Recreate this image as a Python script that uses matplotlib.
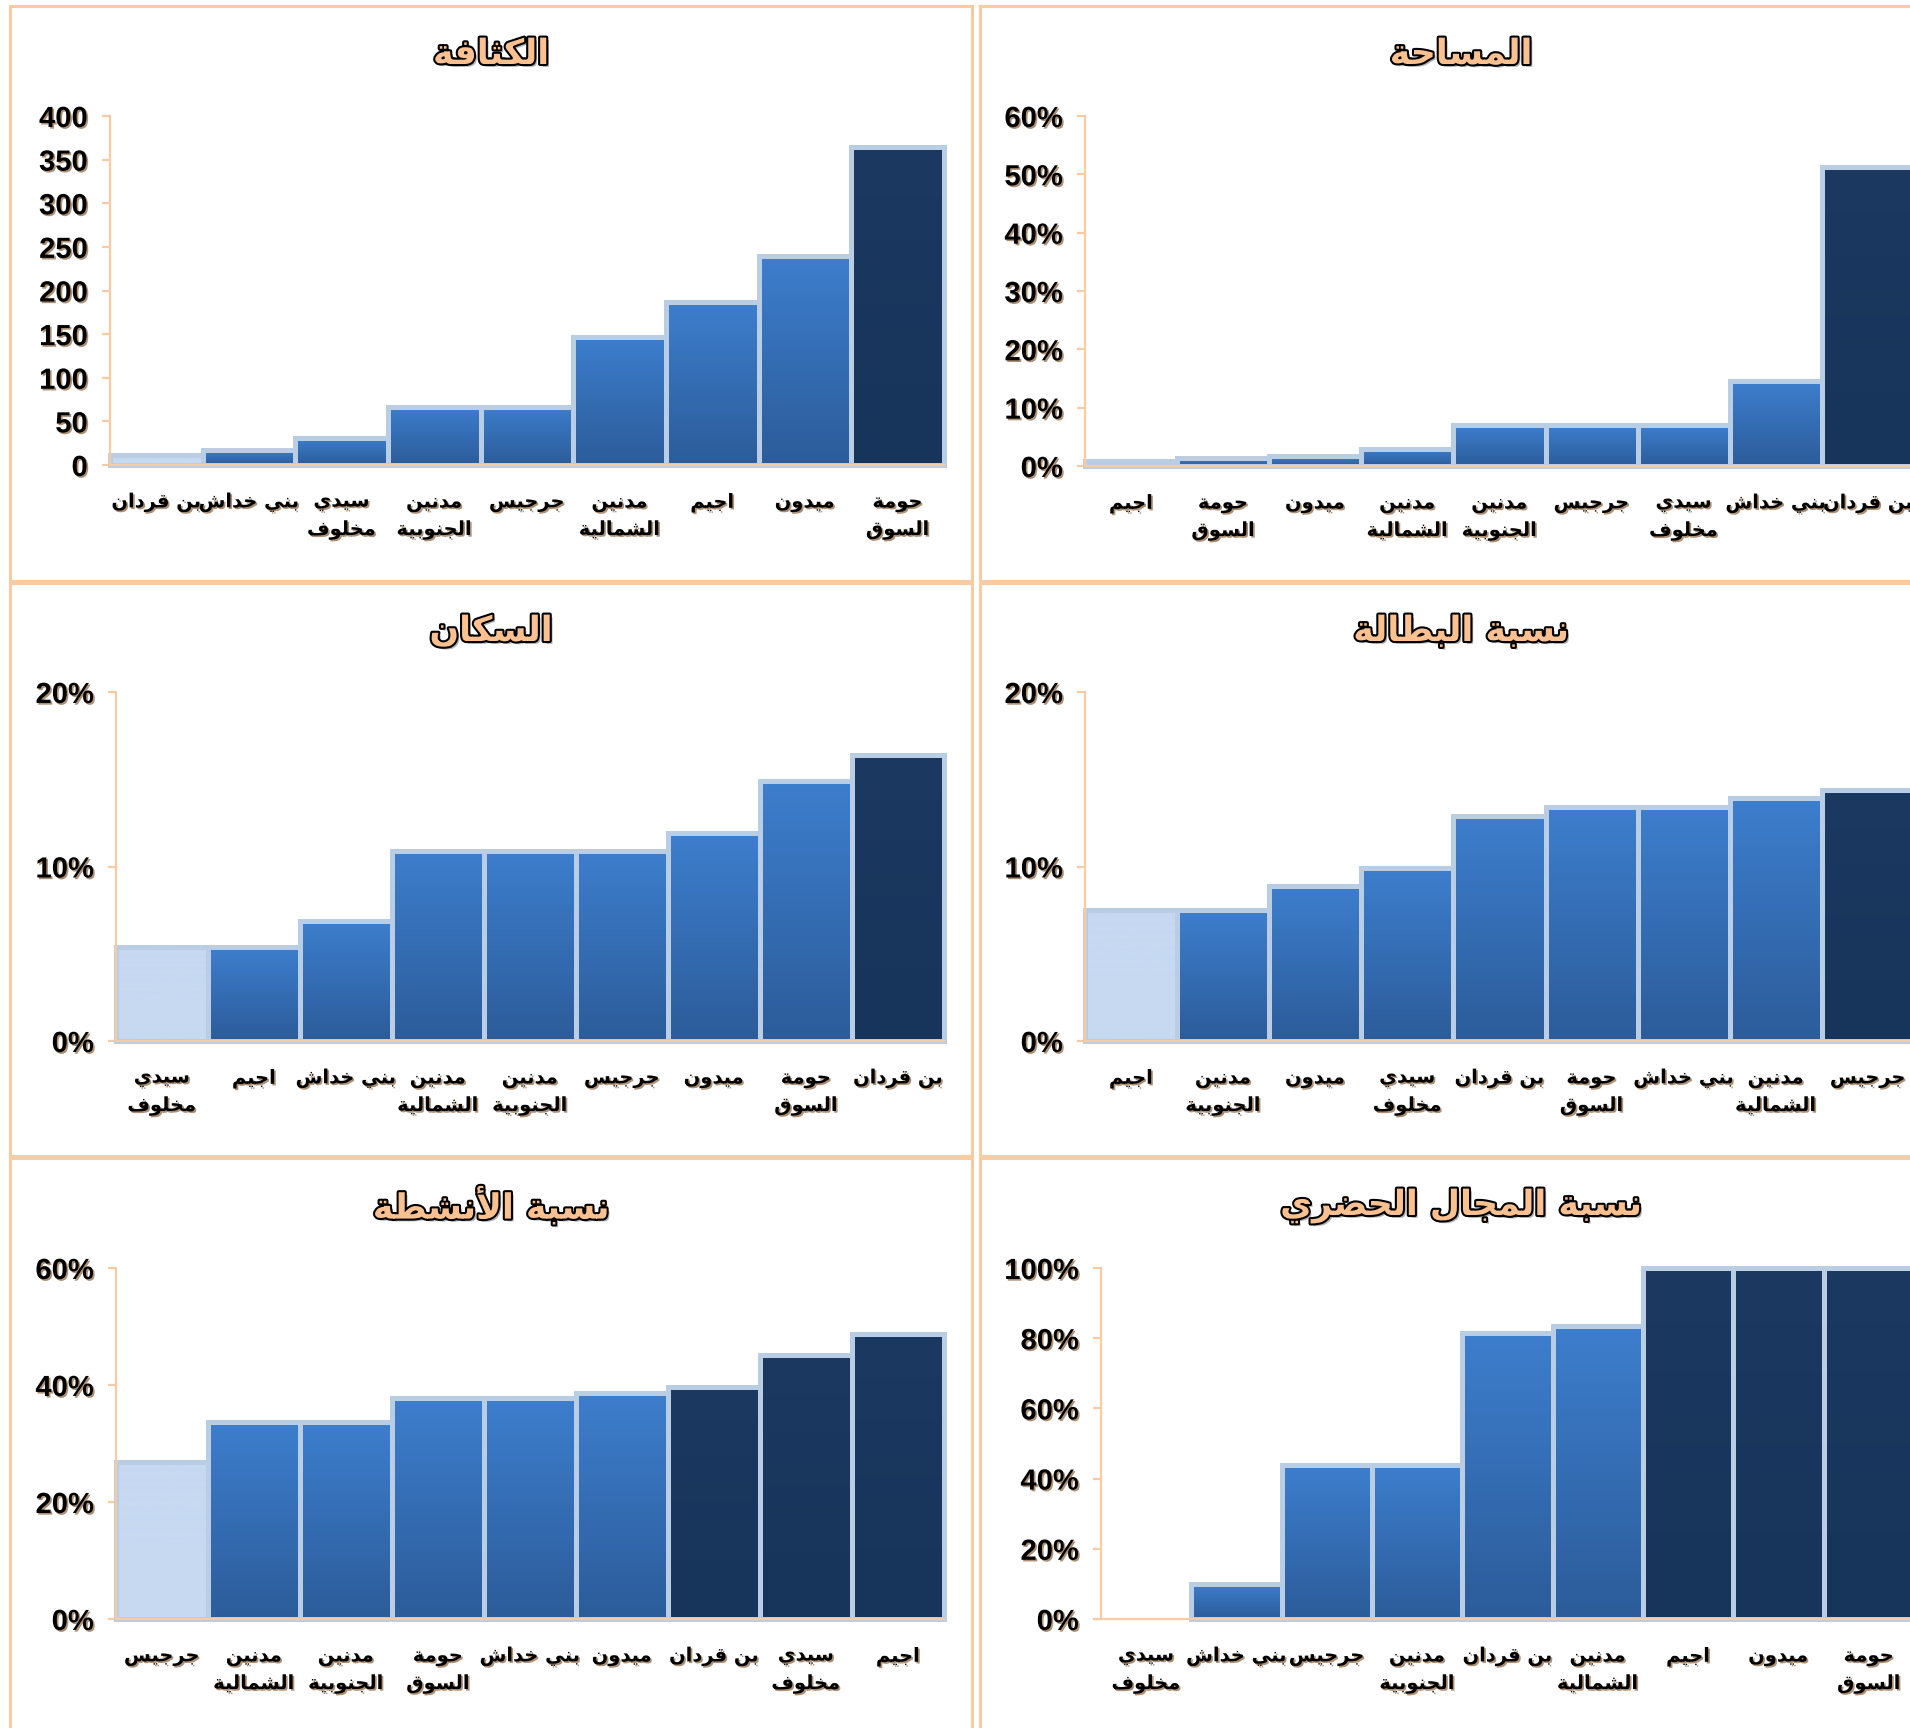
import numpy as np
import matplotlib
matplotlib.use("Agg")
import matplotlib.pyplot as plt
from matplotlib import patches
import matplotlib.patheffects as pe
from matplotlib.colors import to_rgb


# Data (regions left to right, as drawn)
density_regions = ['بن قردان', 'بني خداش', 'سيدي\nمخلوف', 'مدنين\nالجنوبية', 'جرجيس',
                   'مدنين\nالشمالية', 'اجيم', 'ميدون', 'حومة\nالسوق']
density_values = [11, 17, 31, 67, 67, 147, 187, 240, 365]
density_ticks = [0, 50, 100, 150, 200, 250, 300, 350, 400]

area_regions = ['اجيم', 'حومة\nالسوق', 'ميدون', 'مدنين\nالشمالية', 'مدنين\nالجنوبية',
                'جرجيس', 'سيدي\nمخلوف', 'بني خداش', 'بن قردان']
area_values = [0.8, 1.3, 1.7, 3.0, 7.0, 7.0, 7.0, 14.5, 51.2]
area_ticks = [0, 10, 20, 30, 40, 50, 60]

population_regions = ['سيدي\nمخلوف', 'اجيم', 'بني خداش', 'مدنين\nالشمالية', 'مدنين\nالجنوبية',
                      'جرجيس', 'ميدون', 'حومة\nالسوق', 'بن قردان']
population_values = [5.4, 5.4, 6.9, 10.9, 10.9, 10.9, 11.9, 14.9, 16.4]
population_ticks = [0, 10, 20]

unemployment_regions = ['اجيم', 'مدنين\nالجنوبية', 'ميدون', 'سيدي\nمخلوف', 'بن قردان',
                        'حومة\nالسوق', 'بني خداش', 'مدنين\nالشمالية', 'جرجيس']
unemployment_values = [7.5, 7.5, 8.9, 9.9, 12.9, 13.4, 13.4, 13.9, 14.4]
unemployment_ticks = [0, 10, 20]

activity_regions = ['جرجيس', 'مدنين\nالشمالية', 'مدنين\nالجنوبية', 'حومة\nالسوق', 'بني خداش',
                    'ميدون', 'بن قردان', 'سيدي\nمخلوف', 'اجيم']
activity_values = [26.8, 33.7, 33.7, 37.7, 37.7, 38.7, 39.7, 45.2, 48.8]
activity_ticks = [0, 20, 40, 60]

urban_regions = ['سيدي\nمخلوف', 'بني خداش', 'جرجيس', 'مدنين\nالجنوبية', 'بن قردان',
                 'مدنين\nالشمالية', 'اجيم', 'ميدون', 'حومة\nالسوق']
urban_values = [0, 10, 44, 44, 81.5, 83.5, 100, 100, 100]
urban_ticks = [0, 20, 40, 60, 80, 100]


# Layout (pixels of the 1910x1728 output)
FIG_W, FIG_H = 1910, 1728
PANEL_W = 962
COL_X = [10, 980]
ROW_Y = [6, 583, 1158]
ROW_H = [575, 573, 575]
TITLE_DY = 48

BORDER_COLOR = "#F9CBA3"
AXIS_COLOR = "#F9CBA3"
EDGE_COLOR = "#B9CDE5"
TITLE_COLOR = "#FAC090"
SHADOW_COLOR = "#8C6239"

LIGHT = ("#C6D9F1", "#C6D9F1")
MID = ("#3D7ECD", "#2C5C9A")
DARK = ("#1B3961", "#17345A")

ARABIC_FONT = ["DejaVu Sans Condensed", "DejaVu Sans"]
NUMBER_FONT = ["Liberation Sans Narrow", "Liberation Sans", "DejaVu Sans"]


# Minimal Arabic shaping: isolated, final, initial, medial presentation forms
FORMS = {
    'ا': (0xFE8D, 0xFE8E, None, None),
    'أ': (0xFE83, 0xFE84, None, None),
    'ب': (0xFE8F, 0xFE90, 0xFE91, 0xFE92),
    'ة': (0xFE93, 0xFE94, None, None),
    'ث': (0xFE99, 0xFE9A, 0xFE9B, 0xFE9C),
    'ج': (0xFE9D, 0xFE9E, 0xFE9F, 0xFEA0),
    'ح': (0xFEA1, 0xFEA2, 0xFEA3, 0xFEA4),
    'خ': (0xFEA5, 0xFEA6, 0xFEA7, 0xFEA8),
    'د': (0xFEA9, 0xFEAA, None, None),
    'ر': (0xFEAD, 0xFEAE, None, None),
    'س': (0xFEB1, 0xFEB2, 0xFEB3, 0xFEB4),
    'ش': (0xFEB5, 0xFEB6, 0xFEB7, 0xFEB8),
    'ض': (0xFEBD, 0xFEBE, 0xFEBF, 0xFEC0),
    'ط': (0xFEC1, 0xFEC2, 0xFEC3, 0xFEC4),
    'ف': (0xFED1, 0xFED2, 0xFED3, 0xFED4),
    'ق': (0xFED5, 0xFED6, 0xFED7, 0xFED8),
    'ك': (0xFED9, 0xFEDA, 0xFEDB, 0xFEDC),
    'ل': (0xFEDD, 0xFEDE, 0xFEDF, 0xFEE0),
    'م': (0xFEE1, 0xFEE2, 0xFEE3, 0xFEE4),
    'ن': (0xFEE5, 0xFEE6, 0xFEE7, 0xFEE8),
    'و': (0xFEED, 0xFEEE, None, None),
    'ي': (0xFEF1, 0xFEF2, 0xFEF3, 0xFEF4),
}
LAM_ALEF = {'ا': (0xFEFB, 0xFEFC), 'أ': (0xFEF7, 0xFEF8)}


def shape_line(line):
    out = []
    i = 0
    while i < len(line):
        c = line[i]
        if c not in FORMS:
            out.append(c)
            i += 1
            continue
        prev = line[i - 1] if i > 0 else None
        joins_prev = prev in FORMS and FORMS[prev][2] is not None
        nxt = line[i + 1] if i + 1 < len(line) else None
        if c == 'ل' and nxt in LAM_ALEF:
            iso, fin = LAM_ALEF[nxt]
            out.append(chr(fin if joins_prev else iso))
            i += 2
            continue
        iso, fin, ini, med = FORMS[c]
        joins_next = ini is not None and nxt in FORMS
        if joins_prev and joins_next:
            code = med
        elif joins_prev:
            code = fin
        elif joins_next:
            code = ini
        else:
            code = iso
        out.append(chr(code))
        i += 1
    return ''.join(reversed(out))


def shape(text):
    return '\n'.join(shape_line(line) for line in text.split('\n'))


def fig_rect(left, top, right, bottom):
    return [left / FIG_W, 1 - bottom / FIG_H, (right - left) / FIG_W, (bottom - top) / FIG_H]


def gradient(colors, n=64):
    top, bottom = np.array(to_rgb(colors[0])), np.array(to_rgb(colors[1]))
    t = np.linspace(0, 1, n).reshape(-1, 1, 1)
    return top * (1 - t) + bottom * t


def draw_chart(fig, col, row, axes_box, title, regions, values, ticks, percent, n_dark):
    px, py, ph = COL_X[col], ROW_Y[row], ROW_H[row]
    fig.add_artist(patches.Rectangle((px / FIG_W, 1 - (py + ph) / FIG_H), PANEL_W / FIG_W, ph / FIG_H,
                                     transform=fig.transFigure, fill=False,
                                     edgecolor=BORDER_COLOR, linewidth=2.2))
    fig.text((px + PANEL_W / 2) / FIG_W, 1 - (py + TITLE_DY) / FIG_H, shape(title),
             ha='center', va='center', fontsize=25, fontweight='bold', family=ARABIC_FONT,
             color=TITLE_COLOR,
             path_effects=[pe.SimplePatchShadow(offset=(2, -2), shadow_rgbFace='#808080', alpha=0.6),
                           pe.Stroke(linewidth=3, foreground='black'), pe.Normal()])

    ax = fig.add_axes(fig_rect(*axes_box))
    x = np.arange(len(values))
    bars = ax.bar(x, values, width=1.0, facecolor='none', edgecolor=EDGE_COLOR,
                  linewidth=3.6, zorder=2, clip_on=False)
    for i, bar in enumerate(bars):
        if values[i] == 0:
            bar.set_visible(False)
            continue
        if i == 0:
            colors = LIGHT
        elif i >= len(values) - n_dark:
            colors = DARK
        else:
            colors = MID
        img = ax.imshow(gradient(colors), aspect='auto', origin='upper', zorder=1.5,
                        extent=(bar.get_x(), bar.get_x() + bar.get_width(), 0, bar.get_height()))
        img.set_clip_path(bar)

    ax.set_xlim(-0.5, len(values) - 0.5)
    ax.set_ylim(0, ticks[-1])

    for side in ("top", "right"):
        ax.spines[side].set_visible(False)
    for side in ("left", "bottom"):
        ax.spines[side].set_color(AXIS_COLOR)
        ax.spines[side].set_linewidth(1.6)
        ax.spines[side].set_zorder(3)

    shadow = [pe.SimplePatchShadow(offset=(1.2, -1.2), shadow_rgbFace=SHADOW_COLOR, alpha=0.7), pe.Normal()]

    ax.set_xticks(x)
    ax.set_xticklabels([shape(r) for r in regions], fontsize=14, fontweight='bold',
                       family=ARABIC_FONT, linespacing=1.55, va='top')
    ax.tick_params(axis='x', length=0, pad=20)

    ax.set_yticks(ticks)
    ax.set_yticklabels([f"{t}%" if percent else str(t) for t in ticks], fontsize=21,
                       fontweight='bold', family=NUMBER_FONT)
    ax.tick_params(axis='y', length=6, width=1.6, color=AXIS_COLOR, pad=10)

    for label in ax.get_xticklabels() + ax.get_yticklabels():
        label.set_path_effects(shadow)
    return ax


fig = plt.figure(figsize=(FIG_W / 100, FIG_H / 100), dpi=100)

draw_chart(fig, 0, 0, (110, 116, 944, 465), 'الكثافة',
           density_regions, density_values, density_ticks, False, 1)
draw_chart(fig, 1, 0, (1085, 116, 1914, 466), 'المساحة',
           area_regions, area_values, area_ticks, True, 1)
draw_chart(fig, 0, 1, (116, 692, 944, 1041), 'السكان',
           population_regions, population_values, population_ticks, True, 1)
draw_chart(fig, 1, 1, (1085, 692, 1914, 1041), 'نسبة البطالة',
           unemployment_regions, unemployment_values, unemployment_ticks, True, 1)
draw_chart(fig, 0, 2, (116, 1268, 944, 1619), 'نسبة الأنشطة',
           activity_regions, activity_values, activity_ticks, True, 3)
draw_chart(fig, 1, 2, (1101, 1268, 1914, 1619), 'نسبة المجال الحضري',
           urban_regions, urban_values, urban_ticks, True, 3)

fig.savefig("out.png", dpi=100, facecolor="white")
